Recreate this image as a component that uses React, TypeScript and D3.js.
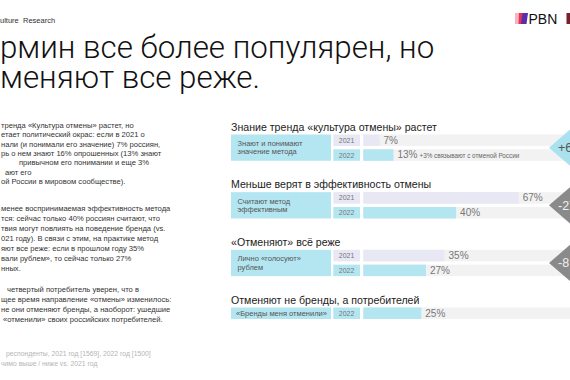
import React from 'react';
import * as d3 from 'd3';

const W = 570;
const H = 380;

// header / title
const headerTabs = ['ulture', 'Research'];
const titleLines = ['рмин все более популярен, но', 'меняют все реже.'];

// left column text (slide is cropped on the left)
const para1 = [
  'тренда «Культура отмены» растет, но',
  'етает политический окрас: если в 2021 о',
  'нали (и понимали его значение) 7% россиян,',
  'рь о нем знают 16% опрошенных (13% знают',
  'привычном его понимании и еще 3%',
  'ают его',
  'ой России в мировом сообществе).',
];
const para1Indent = [1, 1, 1, 1, 19, 5, 1];
const para2 = [
  'менее воспринимаемая эффективность метода',
  'тся: сейчас только 40% россиян считают, что',
  'твия могут повлиять на поведение бренда (vs.',
  '021 году). В связи с этим, на практике метод',
  'яют все реже: если в прошлом году 35%',
  'вали рублем», то сейчас только 27%',
  'нных.',
];
const para3 = [
  'четвертый потребитель уверен, что в',
  'щее время направление «отмены» изменилось:',
  'не они отменяют бренды, а наоборот: ушедшие',
  '«отменили» своих российских потребителей.',
];
const para3Indent = [7, 1, 1, 3];
const footnotes = [
  'респонденты, 2021 год [1569], 2022 год [1500]',
  'чимо выше / ниже vs. 2021 год',
];

// chart data
const sectionTitles = [
  'Знание тренда «культура отмены» растет',
  'Меньше верят в эффективность отмены',
  '«Отменяют» всё реже',
  'Отменяют не бренды, а потребителей',
];
const rowLabels = [
  ['Знают и понимают', 'значение метода'],
  ['Считают метод', 'эффективным'],
  ['Лично «голосуют»', 'рублем'],
  ['«Бренды меня отменили»'],
];
const years = ['2021', '2022'];
const values2021: (number | null)[] = [7, 67, 35, null];
const values2022 = [13, 40, 27, 25];
const deltas: (string | null)[] = ['+6', '-27', '-8', null];
const notes: (string | null)[] = ['+3% связывают с отменой России', null, null, null];

const FONT = "'Liberation Sans', Arial, sans-serif";
const CYAN = '#b4e6f1';
const LAV = '#e7e8f4';
const TRACK = '#f2f2f2';

const App: React.FC = () => {
  const x = d3.scaleLinear().domain([0, 100]).range([363.3, 595.3]);
  const sectionY = d3
    .scalePoint<number>()
    .domain(d3.range(sectionTitles.length))
    .range([134.5, 307.5]);
  const rowH = 11.5;
  const rowStep = 14.8;

  return (
    <svg
      width={W}
      height={H}
      style={{ position: 'absolute', left: 0, top: 0, background: '#fff' }}
      fontFamily={FONT}
    >
      <rect width={W} height={H} fill="#fff" />

      {/* header */}
      <text x={0} y={22.5} fontSize={7.5} fill="#333">{headerTabs[0]}</text>
      <text x={23} y={22.5} fontSize={7.5} fill="#333">{headerTabs[1]}</text>

      {/* logo */}
      <g>
        <polygon points="515,13 519.5,13 519.5,24 515,24" fill="#f6b3c3" />
        <polygon points="519,13 523,13 522,24 518.5,24" fill="#e8334f" />
        <polygon points="522.5,13 528,13 526.5,24 521,24" fill="#5a2cb3" />
        <text x={528.5} y={24} fontSize={14} fill="#111" fontWeight={500}>PBN</text>
        <rect x={566.5} y={13} width={4} height={11} fill="#7a1f2b" />
      </g>

      {/* title */}
      {titleLines.map((t, i) => (
        <text key={t} x={0} y={58 + i * 30} fontSize={31.3} fill="#111" fontWeight={300}
          fontFamily="Roboto, 'Liberation Sans', sans-serif">
          {t}
        </text>
      ))}

      {/* left text */}
      <g fontSize={7.6} fill="#333">
        {para1.map((t, i) => (
          <text key={'p1' + i} x={para1Indent[i]} y={128 + i * 9.3}>{t}</text>
        ))}
        {para2.map((t, i) => (
          <text key={'p2' + i} x={1} y={210.5 + i * 10}>{t}</text>
        ))}
        {para3.map((t, i) => (
          <text key={'p3' + i} x={para3Indent[i]} y={291.5 + i * 10.2}>{t}</text>
        ))}
      </g>
      <g fontSize={6.8} fill="#b5b5b5">
        {footnotes.map((t, i) => (
          <text key={'f' + i} x={i === 0 ? 6 : 1} y={355.5 + i * 10}>{t}</text>
        ))}
      </g>

      {/* chart sections */}
      {sectionTitles.map((title, s) => {
        const y0 = sectionY(s) as number;
        const v21 = values2021[s];
        const v22 = values2022[s];
        const rows: { year: string; v: number; color: string; yearFill: string }[] = [];
        if (v21 !== null) rows.push({ year: years[0], v: v21, color: LAV, yearFill: LAV });
        rows.push({ year: years[1], v: v22, color: CYAN, yearFill: CYAN });
        const groupH = rowH + (rows.length - 1) * rowStep;
        const cy = y0 + groupH / 2;
        const lines = rowLabels[s];
        return (
          <g key={title}>
            <text x={231} y={y0 - 4} fontSize={10.6} fill="#222">{title}</text>
            <rect x={231} y={y0} width={100} height={groupH} fill={CYAN} />
            {lines.map((l, li) => (
              <text
                key={l}
                x={lines.length === 1 ? 236 : 237.5}
                y={cy + 2.6 + (li - (lines.length - 1) / 2) * 8.4}
                fontSize={7.5}
                fill="#555"
              >
                {l}
              </text>
            ))}
            {rows.map((r, ri) => {
              const ry = y0 + ri * rowStep;
              return (
                <g key={r.year}>
                  <rect x={333.3} y={ry} width={26.7} height={rowH} fill={r.yearFill} />
                  <text x={346.6} y={ry + 8.3} fontSize={7} fill="#777" textAnchor="middle">
                    {r.year}
                  </text>
                  <rect x={x(0)} y={ry} width={W - x(0) + 5} height={rowH} fill={TRACK} />
                  <rect x={x(0)} y={ry} width={x(r.v) - x(0)} height={rowH} fill={r.color} />
                  <text x={x(r.v) + 4} y={ry + 9} fontSize={10} fill="#777">
                    {r.v}%
                  </text>
                  {r.year === '2022' && notes[s] && (
                    <text x={x(r.v) + 26} y={ry + 8.5} fontSize={6.3} fill="#666">
                      {notes[s]}
                    </text>
                  )}
                </g>
              );
            })}
            {deltas[s] && (
              <g>
                <polygon
                  points={`549,${cy} 571,${cy - 19} 600,${cy - 19} 600,${cy + 19} 571,${cy + 19}`}
                  fill={s === 0 ? '#a9e2ee' : '#8a8a8a'}
                />
                <text x={558} y={cy + 4.5} fontSize={12.5} fill={s === 0 ? '#555' : '#f0f0f0'}>
                  {deltas[s]}
                </text>
              </g>
            )}
          </g>
        );
      })}
    </svg>
  );
};

export default App;
